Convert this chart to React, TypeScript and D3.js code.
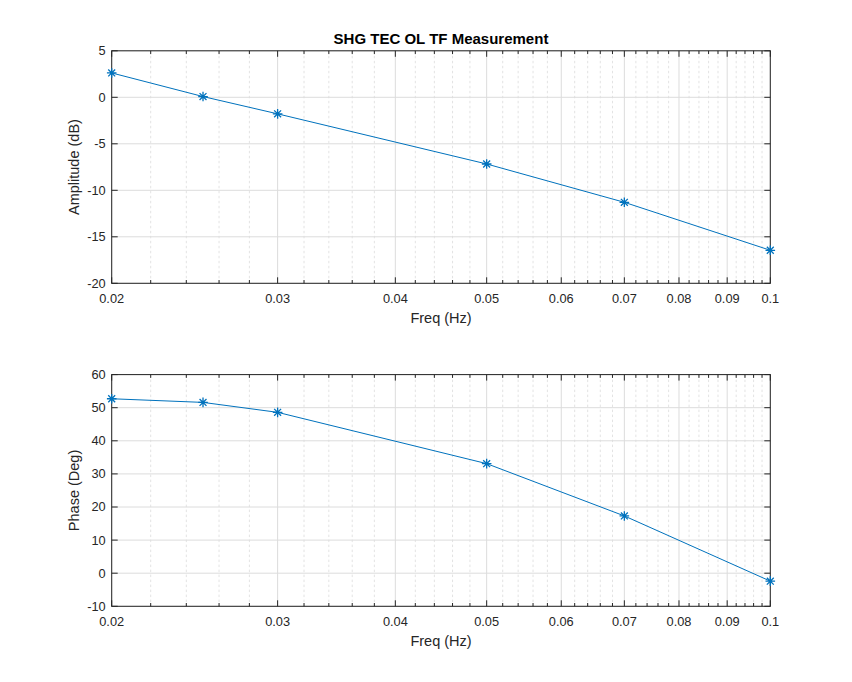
import React from "react";
import * as d3 from "d3";

const freqs = [0.02, 0.025, 0.03, 0.05, 0.07, 0.1];
const amplitude = [2.62, 0.08, -1.78, -7.17, -11.29, -16.45];
const phase = [52.7, 51.6, 48.6, 33.1, 17.3, -2.4];

const xMajorTicks = [0.02, 0.03, 0.04, 0.05, 0.06, 0.07, 0.08, 0.09, 0.1];
const xTickLabels = ["0.02", "0.03", "0.04", "0.05", "0.06", "0.07", "0.08", "0.09", "0.1"];
const ampTicks = [-20, -15, -10, -5, 0, 5];
const phaseTicks = [-10, 0, 10, 20, 30, 40, 50, 60];

const title = "SHG TEC OL TF Measurement";
const xLabel = "Freq (Hz)";
const ampLabel = "Amplitude (dB)";
const phaseLabel = "Phase (Deg)";

const W = 852;
const H = 682;
const L = 111.7;
const R = 770.3;
const FONT = "'Liberation Sans', Arial, Helvetica, sans-serif";
const AX = "#262626";
const LINE = "#0072BD";

const minorTicks = d3
  .range(11, 50)
  .map((k) => k * 0.002)
  .filter((v) => Math.abs(v * 100 - Math.round(v * 100)) > 1e-6);

const x = d3.scaleLog().domain([0.02, 0.1]).range([L, R]);

function starPath(cx: number, cy: number, r: number) {
  const d = r * 0.72;
  return `M${cx - r},${cy}L${cx + r},${cy}M${cx},${cy - r}L${cx},${cy + r}M${cx - d},${cy - d}L${cx + d},${cy + d}M${cx - d},${cy + d}L${cx + d},${cy - d}`;
}

function Panel({
  top,
  bottom,
  domain,
  yTicks,
  values,
  ylabel,
  showTitle,
}: {
  top: number;
  bottom: number;
  domain: [number, number];
  yTicks: number[];
  values: number[];
  ylabel: string;
  showTitle: boolean;
}) {
  const y = d3.scaleLinear().domain(domain).range([bottom, top]);
  const line = d3
    .line<number>()
    .x((_, i) => x(freqs[i]))
    .y((v) => y(v));
  const majLen = 6;
  const minLen = 3.3;
  return (
    <g>
      {minorTicks.map((t) => (
        <line
          key={"mg" + t}
          x1={x(t)}
          x2={x(t)}
          y1={top}
          y2={bottom}
          stroke="#e3e3e3"
          strokeWidth={1}
          strokeDasharray="2.5,2.5"
        />
      ))}
      {xMajorTicks.map((t) => (
        <line key={"gx" + t} x1={x(t)} x2={x(t)} y1={top} y2={bottom} stroke="#dcdcdc" strokeWidth={1} />
      ))}
      {yTicks.map((t) => (
        <line key={"gy" + t} x1={L} x2={R} y1={y(t)} y2={y(t)} stroke="#dcdcdc" strokeWidth={1} />
      ))}
      {minorTicks.map((t) => (
        <g key={"mt" + t} stroke={AX} strokeWidth={1}>
          <line x1={x(t)} x2={x(t)} y1={bottom} y2={bottom - minLen} />
          <line x1={x(t)} x2={x(t)} y1={top} y2={top + minLen} />
        </g>
      ))}
      {xMajorTicks.map((t, i) => (
        <g key={"xt" + t}>
          <line x1={x(t)} x2={x(t)} y1={bottom} y2={bottom - majLen} stroke={AX} />
          <line x1={x(t)} x2={x(t)} y1={top} y2={top + majLen} stroke={AX} />
          <text
            x={x(t)}
            y={bottom + 20}
            textAnchor="middle"
            fontFamily={FONT}
            fontSize={12.8}
            fill={AX}
          >
            {xTickLabels[i]}
          </text>
        </g>
      ))}
      {yTicks.map((t) => (
        <g key={"yt" + t}>
          <line x1={L} x2={L + majLen} y1={y(t)} y2={y(t)} stroke={AX} />
          <line x1={R} x2={R - majLen} y1={y(t)} y2={y(t)} stroke={AX} />
          <text
            x={L - 6}
            y={y(t)}
            dy="0.35em"
            textAnchor="end"
            fontFamily={FONT}
            fontSize={12.8}
            fill={AX}
          >
            {t}
          </text>
        </g>
      ))}
      <rect x={L} y={top} width={R - L} height={bottom - top} fill="none" stroke={AX} strokeWidth={1} />
      <path d={line(values) || ""} fill="none" stroke={LINE} strokeWidth={1} />
      {values.map((v, i) => (
        <path key={"m" + i} d={starPath(x(freqs[i]), y(v), 4.8)} stroke={LINE} strokeWidth={1.3} fill="none" />
      ))}
      <text
        x={(L + R) / 2}
        y={bottom + 40}
        textAnchor="middle"
        fontFamily={FONT}
        fontSize={14.5}
        fill={AX}
      >
        {xLabel}
      </text>
      <text
        transform={`translate(${79},${(top + bottom) / 2}) rotate(-90)`}
        textAnchor="middle"
        fontFamily={FONT}
        fontSize={14.5}
        fill={AX}
      >
        {ylabel}
      </text>
      {showTitle && (
        <text
          x={(L + R) / 2}
          y={top - 6.5}
          textAnchor="middle"
          fontFamily={FONT}
          fontSize={15}
          fontWeight="bold"
          fill="#000"
        >
          {title}
        </text>
      )}
    </g>
  );
}

export default function App() {
  return (
    <svg
      width={W}
      height={H}
      style={{ position: "absolute", left: 0, top: 0, background: "#fff" }}
    >
      <rect x={0} y={0} width={W} height={H} fill="#fff" />
      <Panel top={50.8} bottom={283.3} domain={[-20, 5]} yTicks={ampTicks} values={amplitude} ylabel={ampLabel} showTitle={true} />
      <Panel top={374.6} bottom={606.3} domain={[-10, 60]} yTicks={phaseTicks} values={phase} ylabel={phaseLabel} showTitle={false} />
    </svg>
  );
}
